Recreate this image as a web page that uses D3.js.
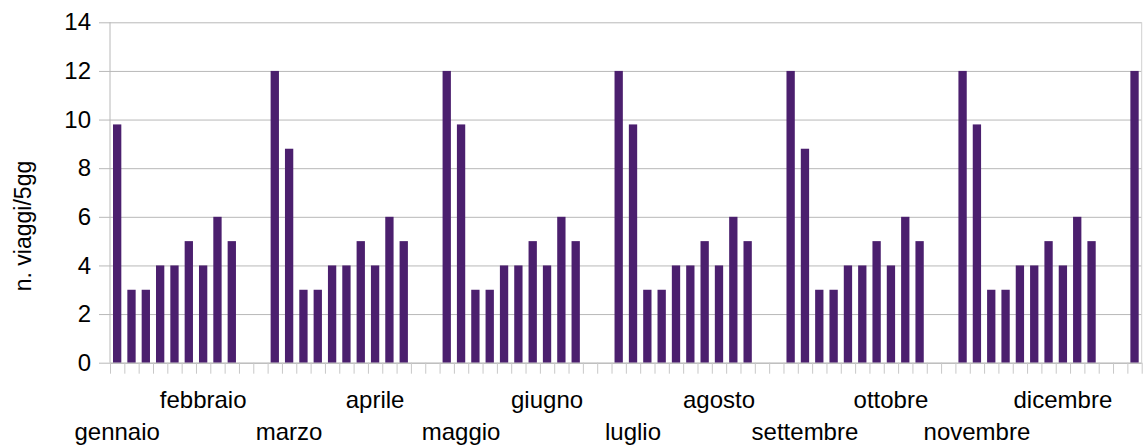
<!DOCTYPE html>
<html>
<head>
<meta charset="utf-8">
<script src="https://cdn.jsdelivr.net/npm/d3@7"></script>
<style>
  html, body { margin: 0; padding: 0; background: #fff; }
  text { font-family: "Liberation Sans", Arial, sans-serif; fill: #000; }
</style>
</head>
<body>
<svg id="chart" width="1144" height="446"></svg>
<script>
// ---- data ----
const months = ["gennaio","febbraio","marzo","aprile","maggio","giugno",
                "luglio","agosto","settembre","ottobre","novembre","dicembre"];
const values = [
  9.8, 3, 3, 4, 4, 5, 4, 6, 5, 0, 0,
  12, 8.8, 3, 3, 4, 4, 5, 4, 6, 5, 0, 0,
  12, 9.8, 3, 3, 4, 4, 5, 4, 6, 5, 0, 0,
  12, 9.8, 3, 3, 4, 4, 5, 4, 6, 5, 0, 0,
  12, 8.8, 3, 3, 4, 4, 5, 4, 6, 5, 0, 0,
  12, 9.8, 3, 3, 4, 4, 5, 4, 6, 5, 0, 0,
  12
];
const categories = values.map((d, i) => String(i));
const yTicks = [0, 2, 4, 6, 8, 10, 12, 14];
const yTitle = "n. viaggi/5gg";

// ---- layout ----
const mLeft = 110, mRight = 1141.7, mTop = 22.3, mBottom = 362.7;
const svg = d3.select("#chart");
const gridColor = "#b8b8b8";

const x = d3.scaleBand().domain(categories).range([mLeft, mRight])
  .paddingInner(0.42).paddingOuter(0.21);
const xi = d3.scaleLinear().domain([0, categories.length]).range([mLeft, mRight]);
const y = d3.scaleLinear().domain([0, 14]).range([mBottom, mTop]);

// gridlines + y ticks
const yAxis = d3.axisLeft(y).tickValues(yTicks).tickSize(-(mRight - mLeft)).tickSizeOuter(0).tickFormat(d3.format("d"));
const gy = svg.append("g").attr("transform", `translate(${mLeft},0)`).call(yAxis);
gy.select(".domain").remove();
gy.selectAll(".tick line").attr("stroke", gridColor).attr("x1", -11);
gy.selectAll(".tick text").attr("x", -19).attr("font-size", 24)
  .attr("font-family", "Liberation Sans, Arial, sans-serif").attr("fill", "#000");

// frame lines (left axis, right border)
svg.append("line").attr("x1", mLeft).attr("x2", mLeft).attr("y1", mTop).attr("y2", mBottom)
  .attr("stroke", gridColor);
svg.append("line").attr("x1", mRight).attr("x2", mRight).attr("y1", mTop).attr("y2", mBottom)
  .attr("stroke", "#d0d0d0");

// bars
svg.append("g").selectAll("rect").data(values).join("rect")
  .attr("x", (d, i) => x(categories[i]))
  .attr("width", x.bandwidth())
  .attr("y", d => y(d))
  .attr("height", d => y(0) - y(d))
  .attr("fill", "#4b1f6e");

// bottom axis with category boundary ticks
const xAxis = d3.axisBottom(xi).tickValues(d3.range(categories.length + 1)).tickSize(11).tickFormat("");
const gx = svg.append("g").attr("transform", `translate(0,${mBottom})`).call(xAxis);
gx.select(".domain").attr("stroke", gridColor).attr("d", `M${mLeft},0.5H${mRight}`);
gx.selectAll(".tick line").attr("stroke", "#c8c8c8");

// month labels (staggered)
svg.append("g").selectAll("text").data(months).join("text")
  .attr("x", (d, i) => x(categories[i * 6]) + x.bandwidth() / 2)
  .attr("y", (d, i) => i % 2 === 0 ? 440 : 408)
  .attr("text-anchor", "middle")
  .attr("font-size", 24)
  .text(d => d);

// y title
svg.append("text")
  .attr("transform", "translate(31,226) rotate(-90)")
  .attr("text-anchor", "middle")
  .attr("font-size", 23)
  .text(yTitle);
</script>
</body>
</html>
